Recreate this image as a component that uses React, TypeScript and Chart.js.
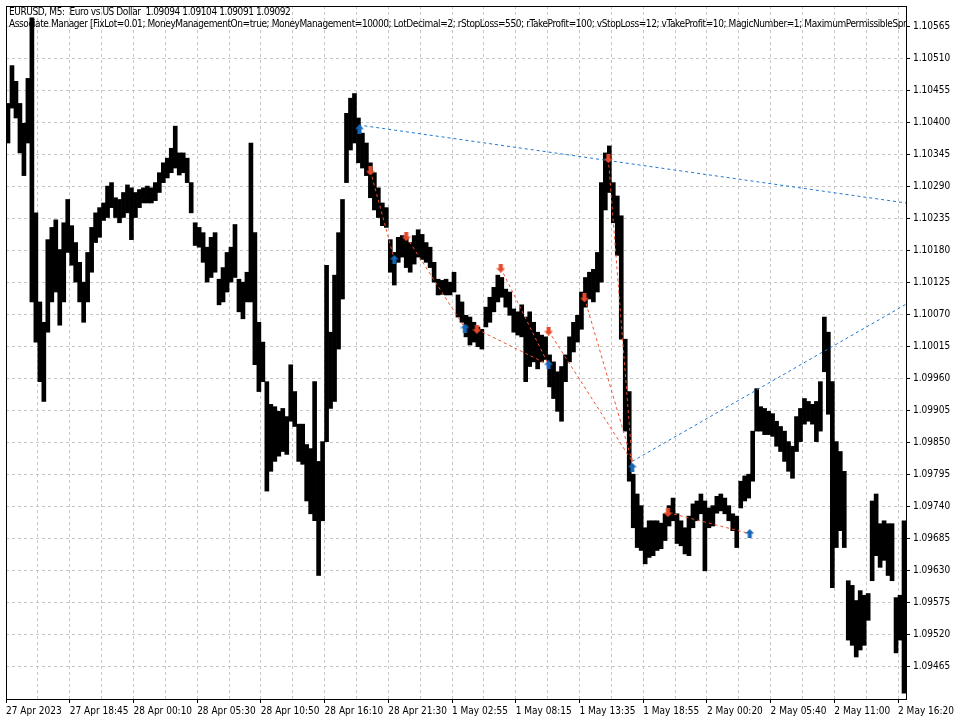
import { useEffect, useRef } from 'react';
import { Chart, registerables } from 'chart.js';

Chart.register(...registerables);

// ---- data ----
const headerLine1 = 'EURUSD, M5:  Euro vs US Dollar  1.09094 1.09104 1.09091 1.09092';
const headerLine2 =
  'Associate Manager [FixLot=0.01; MoneyManagementOn=true; MoneyManagement=10000; LotDecimal=2; rStopLoss=550; rTakeProfit=100; vStopLoss=12; vTakeProfit=10; MagicNumber=1; MaximumPermissibleSpread=20]';

// each sample groups 4 five-minute bars
const barsPerSample = 4;

const highs = [
  1.10433, 1.10498, 1.10471, 1.10433, 1.10399, 1.10476, 1.1058, 1.10245, 1.10092, 1.10057,
  1.10199, 1.1022, 1.10233, 1.10182, 1.10228, 1.10268, 1.10223, 1.10194, 1.1016, 1.10126,
  1.10177, 1.1022, 1.10245, 1.10254, 1.10262, 1.10291, 1.10297, 1.10271, 1.10268, 1.1028,
  1.10293, 1.10288, 1.1028, 1.10285, 1.10288, 1.10291, 1.10288, 1.10297, 1.10314, 1.10331,
  1.10339, 1.10356, 1.10394, 1.10348, 1.10348, 1.10339, 1.10297, 1.10228, 1.1022, 1.10211,
  1.10186, 1.10203, 1.10211, 1.10131, 1.10151, 1.10177, 1.10186, 1.10225, 1.10131, 1.10126,
  1.10143, 1.10365, 1.10211, 1.10057, 1.10023, 1.09955, 1.09916, 1.09912, 1.09904, 1.09909,
  1.09895, 1.09984, 1.09938, 1.09882, 1.09882, 1.09847, 1.0984, 1.09955, 1.09818, 1.09852,
  1.10155, 1.1004, 1.10138, 1.10211, 1.10268, 1.10416, 1.10442, 1.1045, 1.10408, 1.10382,
  1.10365, 1.10331, 1.10314, 1.10288, 1.10262, 1.10254, 1.10199, 1.10177, 1.10203, 1.10206,
  1.10203, 1.10194, 1.10206, 1.10216, 1.10208, 1.10194, 1.10186, 1.1016, 1.10131, 1.10129,
  1.10131, 1.10126, 1.10143, 1.10104, 1.10092, 1.10069, 1.10066, 1.10057, 1.10049, 1.10045,
  1.10083, 1.101, 1.10117, 1.10138, 1.10134, 1.10114, 1.10109, 1.1008, 1.10075, 1.10087,
  1.10066, 1.10075, 1.10057, 1.1004, 1.10035, 1.10032, 1.10001, 1.09989, 1.09972, 1.09981,
  1.10001, 1.10032, 1.10057, 1.10069, 1.10109, 1.10134, 1.10143, 1.10148, 1.10177, 1.10297,
  1.10348, 1.1036, 1.10297, 1.10274, 1.1024, 1.10028, 1.09938, 1.09796, 1.09762, 1.09742,
  1.09704, 1.09716, 1.09716, 1.09716, 1.09712, 1.09728, 1.09742, 1.09755, 1.09728, 1.09716,
  1.09704, 1.09724, 1.09745, 1.0975, 1.09762, 1.0975, 1.09738, 1.09742, 1.09758, 1.09762,
  1.09755, 1.09742, 1.09728, 1.09724, 1.09784, 1.09793, 1.09796, 1.0987, 1.09943, 1.09912,
  1.09909, 1.09904, 1.099, 1.09887, 1.09878, 1.0987, 1.09852, 1.09844, 1.09895, 1.09909,
  1.09926, 1.09921, 1.09916, 1.09921, 1.09955, 1.10066, 1.1004, 1.09955, 1.09852, 1.09835,
  1.09801, 1.09613, 1.09605, 1.09579, 1.09596, 1.09588, 1.09591, 1.0975, 1.09762, 1.09711,
  1.09716, 1.09711, 1.09711, 1.09584, 1.09588, 1.09716,
];

const lows = [
  1.10365, 1.10425, 1.10408, 1.10348, 1.10309, 1.10365, 1.10092, 1.10023, 1.09955, 1.09921,
  1.1004, 1.10092, 1.10109, 1.10052, 1.10092, 1.10177, 1.10155, 1.10126, 1.10092, 1.10057,
  1.10092, 1.10143, 1.10194, 1.10203, 1.10232, 1.10237, 1.10254, 1.10237, 1.10228, 1.10237,
  1.10245, 1.10199, 1.10237, 1.10254, 1.10262, 1.10262, 1.10262, 1.10266, 1.1028, 1.10297,
  1.10305, 1.10314, 1.10322, 1.1031, 1.10314, 1.10297, 1.10245, 1.10189, 1.10186, 1.1016,
  1.10126, 1.10134, 1.10143, 1.10087, 1.10092, 1.10109, 1.10126, 1.10134, 1.10075, 1.10063,
  1.10092, 1.10092, 1.09984, 1.09938, 1.09955, 1.09767, 1.09801, 1.09818, 1.09827, 1.09835,
  1.0983, 1.09887, 1.09878, 1.09818, 1.09813, 1.0975, 1.09728, 1.09716, 1.09622, 1.09716,
  1.09852, 1.09909, 1.09921, 1.10011, 1.10097, 1.10297, 1.10353, 1.10365, 1.10331, 1.10322,
  1.10309, 1.10271, 1.1025, 1.10237, 1.10223, 1.1022, 1.10143, 1.10121, 1.1016, 1.10169,
  1.10151, 1.10143, 1.10157, 1.10169, 1.10165, 1.1016, 1.10151, 1.10126, 1.10104, 1.10105,
  1.10104, 1.10104, 1.10109, 1.10066, 1.10057, 1.10032, 1.10018, 1.10023, 1.10015, 1.10011,
  1.10049, 1.10057, 1.10075, 1.10092, 1.101, 1.10083, 1.10069, 1.1004, 1.10035, 1.10032,
  1.09955, 1.09981, 1.09989, 1.09977, 1.09989, 1.09993, 1.09946, 1.09926, 1.09904, 1.09887,
  1.09955, 1.09989, 1.10006, 1.10023, 1.10045, 1.10083, 1.10097, 1.10092, 1.10109, 1.10126,
  1.1025, 1.1028, 1.10228, 1.10172, 1.10028, 1.0987, 1.09784, 1.09704, 1.0967, 1.09665,
  1.09642, 1.09653, 1.09656, 1.09665, 1.09668, 1.09682, 1.09707, 1.09716, 1.09677, 1.09673,
  1.09659, 1.09656, 1.09704, 1.09716, 1.09728, 1.0963, 1.09704, 1.09707, 1.09729, 1.09733,
  1.09728, 1.09716, 1.09699, 1.0967, 1.09738, 1.0975, 1.09755, 1.09784, 1.0987, 1.0987,
  1.09864, 1.09864, 1.09861, 1.09844, 1.09835, 1.09818, 1.09801, 1.09789, 1.09835, 1.09852,
  1.09882, 1.09887, 1.09882, 1.09852, 1.0987, 1.09972, 1.09899, 1.09601, 1.0967, 1.09699,
  1.0967, 1.09511, 1.09502, 1.09482, 1.09494, 1.09502, 1.09545, 1.09613, 1.09656, 1.09636,
  1.09648, 1.09622, 1.09613, 1.09489, 1.09511, 1.0942,
];

const xTickLabels = [
  '27 Apr 2023', '27 Apr 18:45', '28 Apr 00:10', '28 Apr 05:30', '28 Apr 10:50',
  '28 Apr 16:10', '28 Apr 21:30', '1 May 02:55', '1 May 08:15', '1 May 13:35',
  '1 May 18:55', '2 May 00:20', '2 May 05:40', '2 May 11:00', '2 May 16:20',
];
const barsPerLabel = 64;
const barsPerGrid = 32;
const totalBars = 904;

const yTickValues = [
  1.09465, 1.0952, 1.09575, 1.0963, 1.09685, 1.0974, 1.09795, 1.0985, 1.09905, 1.0996,
  1.10015, 1.1007, 1.10125, 1.1018, 1.10235, 1.1029, 1.10345, 1.104, 1.10455, 1.1051, 1.10565,
];
const yMin = 1.094098;
const yMax = 1.106004;

// trade arrows (bar index, price)
const buyBars = [355, 390, 461, 545, 629, 747];
const buyPrices = [1.10389, 1.10165, 1.10047, 1.09984, 1.09808, 1.09694];
const sellBars = [366, 402, 473, 497, 545, 581, 605, 665];
const sellPrices = [1.10317, 1.10204, 1.10045, 1.1015, 1.10042, 1.10099, 1.10338, 1.0973];

// dotted trade lines
const sellLineFromBar = [366, 402, 473, 497, 545, 581, 605, 665];
const sellLineFromPrice = [1.10317, 1.10204, 1.10045, 1.1015, 1.10042, 1.10099, 1.10338, 1.0973];
const sellLineToBar = [390, 461, 545, 545, 629, 629, 629, 747];
const sellLineToPrice = [1.10165, 1.10047, 1.09984, 1.09984, 1.09818, 1.09818, 1.09818, 1.09694];
const buyLineFromBar = [354, 629];
const buyLineFromPrice = [1.10396, 1.09818];
const buyLineToBar = [904, 904];
const buyLineToPrice = [1.10262, 1.10088];

const BLUE_LINE = '#1e78d2';
const RED_LINE = '#f0502a';
const BLUE_ARROW = '#1466b8';
const RED_ARROW = '#e8482a';
const GRID = '#c6c6c6';
const FONT = '"DejaVu Sans Condensed", "Liberation Sans", sans-serif';

function arrowCanvas(color: string, up: boolean) {
  const c = document.createElement('canvas');
  c.width = 9;
  c.height = 9;
  const g = c.getContext('2d')!;
  g.fillStyle = color;
  g.beginPath();
  const pts = [
    [4.5, 0], [9, 4.5], [6.5, 4.5], [6.5, 9], [2.5, 9], [2.5, 4.5], [0, 4.5],
  ];
  pts.forEach(([x, y], i) => {
    const yy = up ? y : 9 - y;
    if (i === 0) g.moveTo(x, yy);
    else g.lineTo(x, yy);
  });
  g.closePath();
  g.fill();
  return c;
}

const framePlugin = {
  id: 'mtFrame',
  afterDraw(chart: any) {
    const { ctx, chartArea } = chart;
    const w = chartArea.right - chartArea.left;
    const h = chartArea.bottom - chartArea.top;
    ctx.save();
    ctx.setLineDash([]);
    ctx.strokeStyle = '#000';
    ctx.lineWidth = 1;
    ctx.strokeRect(chartArea.left + 0.5, chartArea.top + 0.5, w, h);
    ctx.beginPath();
    ctx.rect(chartArea.left, chartArea.top, w, h);
    ctx.clip();
    ctx.fillStyle = '#000';
    ctx.font = '10px ' + FONT;
    (ctx as any).letterSpacing = '-0.4px';
    ctx.textBaseline = 'alphabetic';
    ctx.fillText(headerLine1, chartArea.left + 3, chartArea.top + 9);
    ctx.fillText(headerLine2, chartArea.left + 3, chartArea.top + 21);
    (ctx as any).letterSpacing = '0px';
    ctx.restore();
  },
};

export default function App() {
  const ref = useRef<HTMLCanvasElement>(null);

  useEffect(() => {
    const buyArrow = arrowCanvas(BLUE_ARROW, true);
    const sellArrow = arrowCanvas(RED_ARROW, false);

    const datasets: any[] = [
      {
        type: 'bar',
        label: 'EURUSD',
        data: highs.map((h, i) => ({ x: i * barsPerSample + barsPerSample / 2, y: [lows[i], h] })),
        backgroundColor: '#000',
        borderWidth: 0,
        barThickness: barsPerSample,
        order: 3,
      },
    ];
    sellLineFromBar.forEach((b, i) => {
      datasets.push({
        type: 'line',
        data: [
          { x: b, y: sellLineFromPrice[i] },
          { x: sellLineToBar[i], y: sellLineToPrice[i] },
        ],
        borderColor: RED_LINE,
        borderWidth: 1,
        borderDash: [3, 3],
        pointRadius: 0,
        order: 2,
      });
    });
    buyLineFromBar.forEach((b, i) => {
      datasets.push({
        type: 'line',
        data: [
          { x: b, y: buyLineFromPrice[i] },
          { x: buyLineToBar[i], y: buyLineToPrice[i] },
        ],
        borderColor: BLUE_LINE,
        borderWidth: 1,
        borderDash: [3, 3],
        pointRadius: 0,
        order: 2,
      });
    });
    datasets.push({
      type: 'line',
      showLine: false,
      data: sellBars.map((b, i) => ({ x: b, y: sellPrices[i] })),
      pointStyle: sellArrow,
      pointRadius: 5,
      order: 1,
    });
    datasets.push({
      type: 'line',
      showLine: false,
      data: buyBars.map((b, i) => ({ x: b, y: buyPrices[i] })),
      pointStyle: buyArrow,
      pointRadius: 5,
      order: 1,
    });

    const chart = new Chart(ref.current!, {
      type: 'bar',
      data: { datasets },
      plugins: [framePlugin],
      options: {
        responsive: false,
        animation: false,
        events: [],
        layout: { padding: { left: 2, top: 2, right: 0, bottom: 0 } },
        plugins: { legend: { display: false }, tooltip: { enabled: false } },
        scales: {
          x: {
            type: 'linear',
            min: 0,
            max: totalBars,
            offset: false,
            afterBuildTicks: (s: any) => {
              const t = [];
              for (let v = 0; v < totalBars; v += barsPerGrid) t.push({ value: v });
              s.ticks = t;
            },
            afterFit: (s: any) => {
              s.height = 21;
              s.paddingLeft = 0;
              s.paddingRight = 0;
            },
            grid: {
              offset: false,
              color: (c: any) => (c.tick && c.tick.value === 0 ? 'rgba(0,0,0,0)' : GRID),
              tickColor: (c: any) =>
                c.tick && c.tick.value % barsPerLabel === 0 ? '#000' : 'rgba(0,0,0,0)',
              tickLength: 4,
              tickBorderDash: [],
              lineWidth: 1,
            },
            border: { display: true, color: '#000', dash: [3, 3] },
            ticks: {
              autoSkip: false,
              maxRotation: 0,
              minRotation: 0,
              align: 'start',
              padding: 2,
              color: '#000',
              font: { family: FONT, size: 10 },
              callback: (v: any) =>
                Number(v) % barsPerLabel === 0 ? xTickLabels[Number(v) / barsPerLabel] ?? '' : '',
            },
          },
          y: {
            type: 'linear',
            position: 'right',
            min: yMin,
            max: yMax,
            afterBuildTicks: (s: any) => {
              s.ticks = yTickValues.map((v) => ({ value: v }));
            },
            afterFit: (s: any) => {
              s.width = 54;
              s.paddingTop = 0;
              s.paddingBottom = 0;
            },
            grid: {
              color: GRID,
              tickColor: '#000',
              tickLength: 4,
              tickBorderDash: [],
              lineWidth: 1,
            },
            border: { display: true, color: '#000', dash: [3, 3] },
            ticks: {
              padding: 3,
              color: '#000',
              font: { family: FONT, size: 10 },
              callback: (v: any) => Number(v).toFixed(5),
            },
          },
        },
      } as any,
    });
    return () => chart.destroy();
  }, []);

  return (
    <div style={{ position: 'fixed', left: 0, top: 0, width: 960, height: 720, background: '#fff' }}>
      <canvas ref={ref} width={960} height={720} style={{ display: 'block' }} />
    </div>
  );
}
